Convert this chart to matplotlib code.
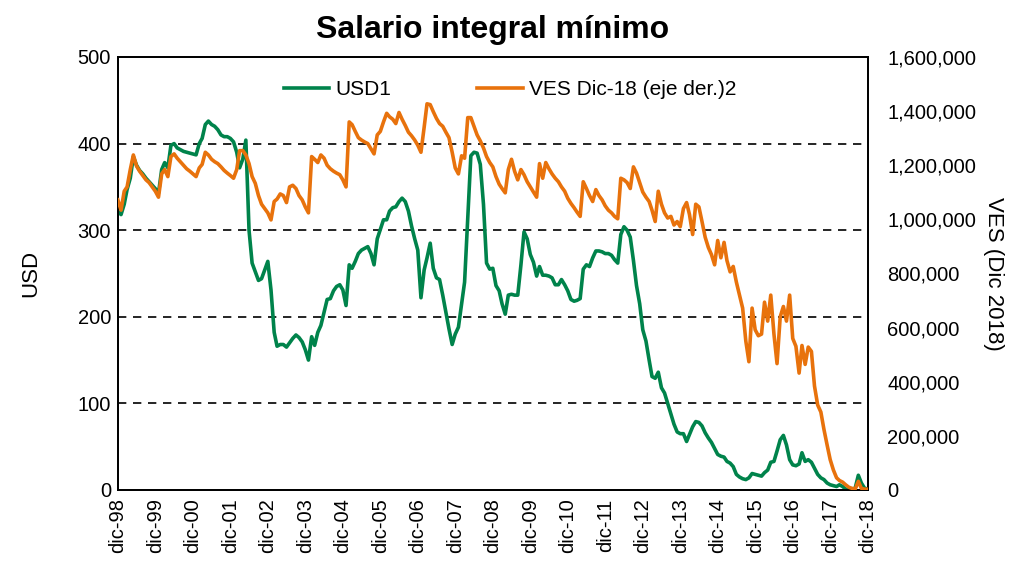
import numpy as np
import pandas as pd
import matplotlib
matplotlib.use("Agg")
import matplotlib.pyplot as plt
from matplotlib.ticker import FuncFormatter

plt.rcParams['font.family'] = ['Liberation Sans', 'DejaVu Sans']

# monthly data, dic-98 .. dic-18
usd = [322,
       318, 330, 347, 360, 385, 375, 369, 365, 360, 356, 352, 348,   # 1999
       343, 370, 378, 372, 398, 400, 395, 393, 391, 390, 389, 388,   # 2000
       387, 400, 406, 422, 426, 422, 420, 416, 410, 408, 408, 406,   # 2001
       402, 390, 372, 382, 404, 300, 262, 252, 242, 244, 254, 264,   # 2002
       231, 182, 166, 168, 168, 165, 170, 175, 179, 176, 171, 162,   # 2003
       150, 177, 167, 182, 190, 205, 220, 221, 230, 235, 237, 231,   # 2004
       213, 260, 256, 264, 273, 277, 279, 281, 273, 260, 290, 301,   # 2005
       312, 312, 322, 326, 327, 333, 337, 333, 322, 305, 290, 277,   # 2006
       222, 254, 268, 285, 256, 245, 243, 225, 205, 186, 168, 180,   # 2007
       188, 215, 240, 315, 386, 390, 389, 376, 330, 262, 255, 256,   # 2008
       236, 230, 215, 203, 225, 226, 225, 225, 260, 298, 290, 272,   # 2009
       263, 247, 258, 248, 248, 247, 245, 237, 237, 243, 237, 230,   # 2010
       220, 218, 219, 221, 255, 260, 258, 268, 276, 276, 275, 273,   # 2011
       273, 271, 266, 262, 295, 304, 300, 292, 265, 236, 215, 185,   # 2012
       172, 150, 131, 129, 136, 118, 112, 100, 88, 76, 67, 65,       # 2013
       65, 56, 64, 73, 79, 78, 74, 66, 60, 55, 48, 41,               # 2014
       39, 38, 33, 31, 27, 18, 15, 13, 12, 14, 19, 18,               # 2015
       17, 16, 20, 23, 32, 33, 45, 58, 63, 52, 35, 29,               # 2016
       28, 30, 43, 33, 35, 32, 25, 18, 14, 12, 8, 6,                 # 2017
       5, 4, 6, 4, 1, 1, 1, 2, 17, 8, 2, 1]                          # 2018

# VES de dic-18, miles
ves_k = [1072,
         1034, 1104, 1120, 1184, 1238, 1197, 1178, 1162, 1146, 1136, 1120, 1104,
         1082, 1168, 1184, 1158, 1232, 1242, 1226, 1213, 1200, 1187, 1178, 1168,
         1158, 1190, 1203, 1248, 1238, 1222, 1213, 1206, 1194, 1181, 1171, 1162,
         1152, 1184, 1254, 1254, 1238, 1206, 1158, 1133, 1088, 1056, 1040, 1024,
         998, 1066, 1075, 1094, 1088, 1062, 1120, 1126, 1114, 1088, 1072, 1046,
         1024, 1232, 1222, 1210, 1238, 1226, 1200, 1187, 1178, 1171, 1165, 1146,
         1120, 1360, 1350, 1325, 1302, 1293, 1286, 1280, 1261, 1242, 1312, 1325,
         1360, 1392, 1379, 1370, 1354, 1395, 1370, 1347, 1322, 1309, 1293, 1274,
         1248, 1340, 1427, 1424, 1398, 1373, 1354, 1344, 1322, 1302, 1248, 1190,
         1168, 1235, 1226, 1376, 1376, 1344, 1312, 1290, 1264, 1232, 1210, 1194,
         1158, 1130, 1114, 1098, 1184, 1222, 1178, 1146, 1184, 1165, 1139, 1120,
         1101, 1082, 1206, 1152, 1210, 1187, 1168, 1152, 1139, 1120, 1104, 1078,
         1059, 1043, 1027, 1011, 1139, 1114, 1088, 1066, 1110, 1088, 1072, 1050,
         1034, 1024, 1011, 1002, 1152, 1146, 1136, 1114, 1194, 1171, 1136, 1101,
         1082, 1066, 1034, 992, 1104, 1056, 1024, 1005, 1011, 979, 992, 973,
         1040, 1062, 1018, 944, 1056, 1046, 992, 934, 896, 870, 832, 922,
         858, 915, 848, 806, 826, 768, 720, 672, 550, 474, 672, 592,
         570, 576, 694, 624, 720, 576, 467, 640, 678, 624, 720, 560,
         531, 432, 534, 464, 528, 512, 384, 314, 288, 224, 166, 112,
         74, 45, 35, 29, 19, 10, 6, 3, 32, 6, 3, 3]

dates = pd.date_range("1998-12-01", periods=len(usd), freq="MS")
tick_dates = pd.date_range("1998-12-01", "2018-12-01", freq="12MS")
tick_labels = ["dic-%02d" % (d.year % 100) for d in tick_dates]

green = "#00834B"
orange = "#E8720C"

fig = plt.figure(figsize=(10.16, 5.61), dpi=100)
ax = fig.add_axes([0.116, 0.1266, 0.738, 0.7718])
ax2 = ax.twinx()

l1, = ax.plot(dates, usd, color=green, lw=2.6, label="USD1", zorder=3)
l2, = ax2.plot(dates, np.array(ves_k) * 1000, color=orange, lw=2.6,
               label="VES Dic-18 (eje der.)2", zorder=3)

ax.set_ylim(0, 500)
ax.set_yticks([0, 100, 200, 300, 400, 500])
ax2.set_ylim(0, 1600000)
ax2.set_yticks(np.arange(0, 1600001, 200000))
ax2.yaxis.set_major_formatter(FuncFormatter(lambda v, p: "{:,.0f}".format(v)))
ax.set_xlim(dates[0], dates[-1])
ax.set_xticks(tick_dates)
ax.set_xticklabels(tick_labels, rotation=90)

for y in [100, 200, 300, 400]:
    ax.axhline(y, color="black", lw=1.2, ls=(0, (5, 4)), zorder=1)

ax.tick_params(axis="y", length=0, labelsize=14.5, pad=5)
ax.tick_params(axis="x", length=0, labelsize=14.5, pad=6)
ax2.tick_params(axis="y", length=0, labelsize=14.5, pad=14)
for a in (ax, ax2):
    for s in a.spines.values():
        s.set_linewidth(1.3)

ax.set_ylabel("USD", fontsize=16, labelpad=26)
ax2.set_ylabel("VES (Dic 2018)", fontsize=16, rotation=270, labelpad=20)
ax.set_title("Salario integral mínimo", fontsize=23, fontweight="bold", pad=14)

ax2.legend([l1, l2], ["USD1", "VES Dic-18 (eje der.)2"], loc="upper center",
           bbox_to_anchor=(0.523, 0.99), ncol=2, frameon=False, fontsize=15,
           handlelength=2.2, handletextpad=0.3, columnspacing=4.1)

fig.savefig("out.png", dpi=100)
